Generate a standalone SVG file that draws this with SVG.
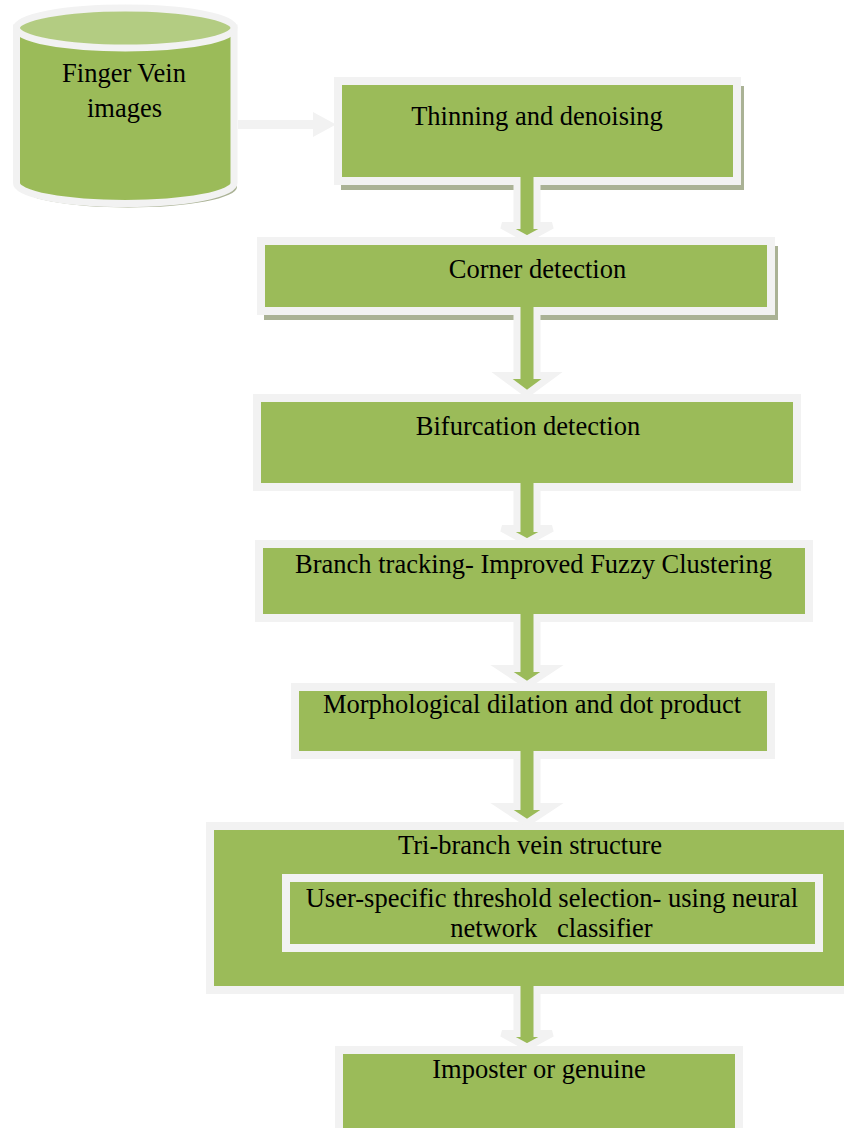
<svg xmlns="http://www.w3.org/2000/svg" width="844" height="1128" viewBox="0 0 844 1128">
  <style>
    .box { fill: #9bbb59; stroke: #f2f2f2; stroke-width: 8; }
    .shadow { fill: #aab295; }
    .lbl { font-family: "Liberation Serif", "Times New Roman", serif; font-size: 26.5px; fill: #000; text-anchor: middle; }
    .arr { fill: #9bbb59; stroke: #f2f2f2; stroke-width: 7; stroke-linejoin: miter; }
  </style>
  <rect x="0" y="0" width="844" height="1128" fill="#ffffff"/>

  <g id="node-source">
    <path d="M19.5,32 V187 A108.75,20.5 0 0 0 237,187 V32 Z" class="shadow"/>
    <path d="M16.5,28 V183 A108.75,20.5 0 0 0 234,183 V28 Z" fill="#9bbb59" stroke="#f2f2f2" stroke-width="7"/>
    <ellipse cx="125.25" cy="28" rx="108.75" ry="20" fill="#b3cc82" stroke="#f2f2f2" stroke-width="7"/>
    <text class="lbl" x="124" y="82">Finger Vein</text>
    <text class="lbl" x="124.5" y="117">images</text>
  </g>

  <g id="node-thinning">
    <rect class="shadow" x="341" y="86" width="403" height="104"/>
    <rect class="box" x="338" y="81" width="399" height="100"/>
    <text class="lbl" x="537" y="125">Thinning and denoising</text>
  </g>

  <g id="node-corner">
    <rect class="shadow" x="264" y="246" width="514" height="74"/>
    <rect class="box" x="261" y="241" width="510" height="70"/>
    <text class="lbl" x="537.5" y="278">Corner detection</text>
  </g>

  <g id="node-bifurcation">
    <rect class="box" x="257" y="398" width="540" height="89"/>
    <text class="lbl" x="528" y="435">Bifurcation detection</text>
  </g>

  <g id="node-branch">
    <rect class="box" x="259" y="544" width="550" height="74"/>
    <text class="lbl" x="533.5" y="573">Branch tracking- Improved Fuzzy Clustering</text>
  </g>

  <g id="node-morph">
    <rect class="box" x="295" y="687" width="476" height="68"/>
    <text class="lbl" x="532" y="713">Morphological dilation and dot product</text>
  </g>

  <g id="node-tribranch">
    <rect class="box" x="210" y="826" width="650" height="164"/>
    <text class="lbl" x="530" y="854">Tri-branch vein structure</text>
    <g id="node-threshold">
      <rect class="box" x="286" y="878" width="533" height="70"/>
      <text class="lbl" x="552" y="907">User-specific threshold selection- using neural</text>
      <text class="lbl" x="551.5" y="937" xml:space="preserve">network   classifier</text>
    </g>
  </g>

  <g id="node-result">
    <rect class="box" x="339" y="1050" width="400" height="100"/>
    <text class="lbl" x="539" y="1078">Imposter or genuine</text>
  </g>

  <g id="connectors">
    <polygon points="238,120 313,120 313,112 336,124.5 313,137 313,129 238,129" fill="#f2f2f2"/>
    <path class="arr" d="M517,177 V225.5 H502 L527,239 L552,225.5 H537 V177"/>
    <path class="arr" d="M517,307 V375.5 H502 L527,394 L552,375.5 H537 V307"/>
    <path class="arr" d="M517,483 V528.5 H502 L527,542 L552,528.5 H537 V483"/>
    <path class="arr" d="M517,614 V668.5 H502 L527,685 L552,668.5 H537 V614"/>
    <path class="arr" d="M517,751 V806.5 H502 L527,823 L552,806.5 H537 V751"/>
    <path class="arr" d="M517,986 V1033.5 H502 L527,1047 L552,1033.5 H537 V986"/>
  </g>
</svg>
